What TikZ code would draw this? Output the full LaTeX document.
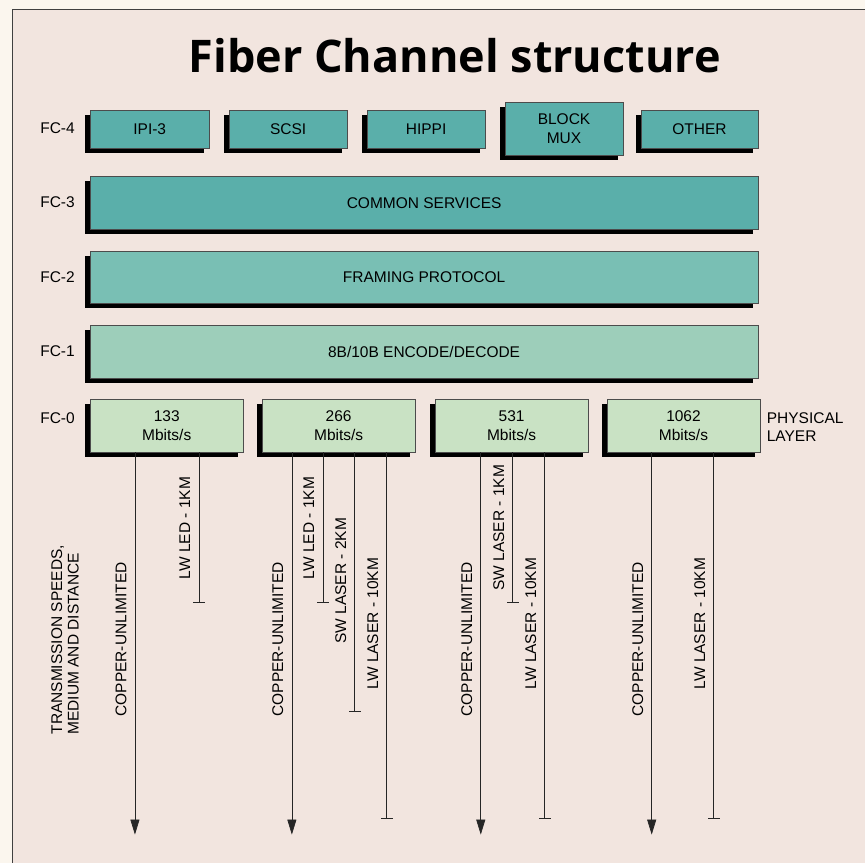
\documentclass[tikz,border=0pt]{standalone}
\usepackage{fontspec}
\setmainfont{Liberation Sans}
\newfontfamily\titlefont{Open Sans}
\usetikzlibrary{arrows.meta,shadows,positioning}

\definecolor{paper}{HTML}{F2E5DF}
\definecolor{margin}{HTML}{FBF6EE}
\definecolor{tealdark}{HTML}{5AAFAA}
\definecolor{tealmid}{HTML}{79BFB4}
\definecolor{teallight}{HTML}{9DCEBA}
\definecolor{physgreen}{HTML}{C9E2C4}

\begin{document}
\begin{tikzpicture}[
    x=1pt, y=-1pt,
    font=\fontsize{15.5}{17}\selectfont,
    layer/.style={draw=black!70, line width=0.6pt, inner sep=0pt, anchor=north west,
        align=center, font=\fontsize{15.5}{19}\selectfont,
        drop shadow={shadow xshift=-5pt, shadow yshift=-5pt, fill=black, opacity=1}},
    medium/.style={rotate=90, inner sep=0pt},
    wire/.style={line width=0.7pt, black!85},
    copper/.style={wire, -{Triangle[width=9pt,length=15pt]}},
    fiber/.style={wire, -{Bar[width=12pt]}}
]

% Page, margin and frame (1pt = 1px of the scan)
\fill [margin] (0,0) rectangle (865,863);
\fill [paper] (12,9) rectangle (865,863);
\draw [line width=0.8pt, black!75] (12,863) -- (12,9) -- (865,9);
\useasboundingbox (0,0) rectangle (865,863);

% Title
\node (title) at (455,56) {\titlefont\bfseries\fontsize{45}{48}\selectfont Fiber Channel structure};

% Level labels
\foreach \y/\lvl in {128/4, 202/3, 277/2, 351/1, 418/0}
    \node [anchor=east, inner sep=0pt] (fc\lvl) at (75,\y) {FC-\lvl};

% FC-4: upper layer protocols
\node [layer, fill=tealdark, minimum width=119pt, minimum height=38pt] (ipi) at (90,110) {IPI-3};
\node [layer, fill=tealdark, minimum width=118pt, minimum height=38pt] (scsi) at (229,110) {SCSI};
\node [layer, fill=tealdark, minimum width=118pt, minimum height=38pt] (hippi) at (367,110) {HIPPI};
\node [layer, fill=tealdark, minimum width=118pt, minimum height=53pt] (mux) at (505,102) {BLOCK\\MUX};
\node [layer, fill=tealdark, minimum width=117pt, minimum height=38pt] (other) at (641,110) {OTHER};

% FC-3 to FC-1
\node [layer, fill=tealdark, minimum width=668pt, minimum height=53pt] (common) at (90,176) {COMMON SERVICES};
\node [layer, fill=tealmid, minimum width=668pt, minimum height=52pt] (framing) at (90,251) {FRAMING PROTOCOL};
\node [layer, fill=teallight, minimum width=668pt, minimum height=53pt] (encode) at (90,325) {8B/10B ENCODE/DECODE};

% FC-0: physical rates
\foreach \x/\rate in {90/133, 262/266, 435/531, 607/1062}
    \node [layer, fill=physgreen, minimum width=153pt, minimum height=53pt] (r\rate) at (\x,399) {\rate\\Mbits/s};

\node [anchor=west, align=left, inner sep=0pt, font=\fontsize{15.5}{18}\selectfont] (phys) at (767,427) {PHYSICAL\\LAYER};

% Copper runs (unlimited distance)
\foreach \rate/\x in {133/135, 266/292, 531/481, 1062/652} {
    \coordinate (cu\rate) at (\x,835);
    \draw [copper] (r\rate.south -| cu\rate) -- (cu\rate);
    \node [medium, anchor=west] (cul\rate) at (\x-14,717) {COPPER-UNLIMITED};
}

% Fiber runs, ending at their distance
\foreach \rate/\x/\yend/\ytop/\txt in {133/199/603/477/LW LED - 1KM,
        266/323/603/477/LW LED - 1KM, 266/355/712/518/SW LASER - 2KM,
        266/387/819/558/LW LASER - 10KM, 531/513/603/465/SW LASER - 1KM,
        531/545/819/558/LW LASER - 10KM, 1062/714/819/558/LW LASER - 10KM} {
    \coordinate (fe\x) at (\x,\yend);
    \draw [fiber] (r\rate.south -| fe\x) -- (fe\x);
    \node [medium, anchor=east] (fl\x) at (\x-14,\ytop) {\txt};
}

% Side caption
\node [medium, anchor=west, align=left, font=\fontsize{15.5}{16.5}\selectfont] (speeds) at (65,735)
    {TRANSMISSION SPEEDS,\\MEDIUM AND DISTANCE};

\end{tikzpicture}
\end{document}
